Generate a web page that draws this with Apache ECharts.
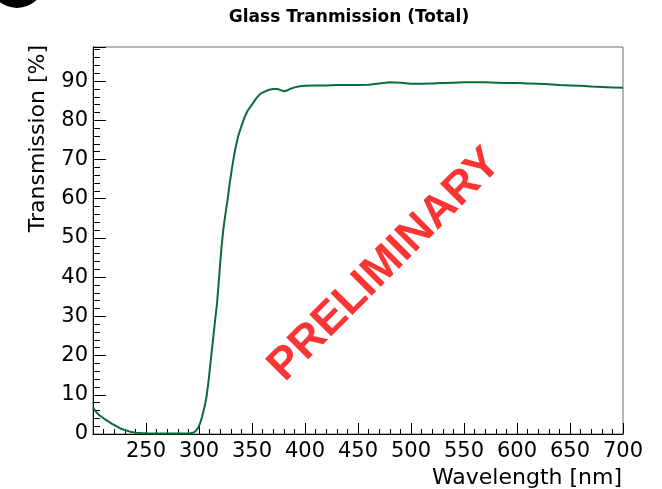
<!DOCTYPE html>
<html>
<head>
<meta charset="utf-8">
<script src="https://cdn.jsdelivr.net/npm/echarts@6/dist/echarts.min.js"></script>
<style>
  html, body { margin: 0; padding: 0; background: #fff; }
  #chart { width: 662px; height: 489px; }
</style>
</head>
<body>
<div id="chart"></div>
<script>
// Measured glass transmission spectrum
const wavelengthNm = [
  200, 203, 206, 210, 214, 218, 222, 226, 230, 235, 240, 245, 250, 260, 270, 280,
  288, 292, 295, 297, 299, 301, 303, 305, 307, 309, 311, 313, 315, 317, 319, 321,
  323, 325, 327, 329, 331, 334, 337, 340, 343, 346, 350, 354, 358, 362, 366, 370,
  374, 377, 380, 383, 386, 390, 395, 400, 410, 420, 430, 440, 450, 460, 470, 480,
  490, 500, 510, 520, 530, 540, 550, 560, 570, 580, 590, 600, 610, 620, 630, 640,
  650, 660, 670, 680, 690, 700
];
const transmissionPct = [
  6.8, 5.6, 4.8, 4.0, 3.3, 2.6, 2.0, 1.4, 1.0, 0.6, 0.35, 0.25, 0.2, 0.15, 0.1, 0.1,
  0.1, 0.2, 0.4, 0.8, 1.5, 2.7, 4.5, 6.6, 9.3, 13.5, 18.5, 23.5, 28.5, 33.3, 40.0, 47.0,
  52.3, 56.2, 59.8, 64.0, 67.6, 72.4, 76.0, 78.5, 80.8, 82.5, 84.0, 85.6, 86.8, 87.3, 87.8, 88.0,
  88.0, 87.7, 87.4, 87.6, 88.0, 88.4, 88.7, 88.8, 88.9, 88.9, 89.0, 89.0, 89.0, 89.1, 89.4, 89.7,
  89.6, 89.3, 89.3, 89.4, 89.5, 89.6, 89.7, 89.7, 89.7, 89.6, 89.5, 89.5, 89.4, 89.3, 89.2, 89.0,
  88.9, 88.8, 88.6, 88.5, 88.4, 88.3
];

const titleText = 'Glass Tranmission (Total)';
const xTitle = 'Wavelength [nm]';
const yTitle = 'Transmission [%]';
const stampText = 'PRELIMINARY';

const points = wavelengthNm.map((w, i) => [w, transmissionPct[i]]);
const fontFamily = '"DejaVu Sans", "Liberation Sans", sans-serif';

const chart = echarts.init(document.getElementById('chart'), null, { renderer: 'canvas' });

chart.setOption({
  animation: false,
  backgroundColor: '#ffffff',
  grid: {
    left: 93, right: 39, top: 47, bottom: 55,
    containLabel: false,
    outerBoundsMode: 'none',
    show: true, borderColor: '#6e6e6e', borderWidth: 1, backgroundColor: 'transparent'
  },
  xAxis: {
    type: 'value',
    min: 200, max: 700, interval: 50,
    name: xTitle,
    // axis title sits flush with the right end of the axis
    nameLocation: 'middle',
    nameGap: 28,
    nameTextStyle: {
      fontFamily, fontSize: 22, color: '#000',
      align: 'center', verticalAlign: 'top', padding: [0, 0, 0, 338]
    },
    axisLine: { show: true, onZero: false, lineStyle: { color: '#000', width: 1 } },
    axisTick: { show: true, inside: true, length: 11, lineStyle: { color: '#000' } },
    minorTick: { show: true, splitNumber: 5, length: 5, lineStyle: { color: '#000' } },
    splitLine: { show: false },
    axisLabel: {
      showMinLabel: false, margin: 7,
      fontFamily, fontSize: 21, color: '#000'
    }
  },
  yAxis: {
    type: 'value',
    min: 0, max: 98.7, interval: 10,
    name: yTitle,
    nameLocation: 'end',
    nameRotate: 90,
    nameGap: 2,
    nameTextStyle: {
      fontFamily, fontSize: 22, color: '#000',
      align: 'right', verticalAlign: 'bottom', padding: [0, 0, 44, 0]
    },
    axisLine: { show: true, onZero: false, lineStyle: { color: '#000', width: 1 } },
    axisTick: { show: true, inside: true, length: 13, lineStyle: { color: '#000' } },
    minorTick: { show: true, splitNumber: 5, length: 7, lineStyle: { color: '#000' } },
    splitLine: { show: false },
    axisLabel: {
      showMaxLabel: false, margin: 5,
      fontFamily, fontSize: 21, color: '#000'
    }
  },
  graphic: [
    {
      type: 'circle', left: -11, top: -48, z: 10,
      shape: { r: 28 }, style: { fill: '#000' }
    },
    {
      type: 'text', x: 349, y: 18, z: 10,
      style: {
        text: titleText, fill: '#000',
        font: 'bold 17px "DejaVu Sans", "Liberation Sans", sans-serif',
        align: 'center', verticalAlign: 'middle'
      }
    },
    {
      type: 'text', x: 385, y: 265, rotation: Math.PI / 4, z: 5,
      style: {
        text: stampText, fill: '#fb3434',
        font: 'bold 45px "Liberation Sans", "DejaVu Sans", sans-serif',
        align: 'center', verticalAlign: 'middle'
      }
    }
  ],
  series: [{
    type: 'line',
    data: points,
    showSymbol: false,
    smooth: false,
    lineStyle: { color: '#0b6b3a', width: 2 },
    z: 3
  }]
});
</script>
</body>
</html>
